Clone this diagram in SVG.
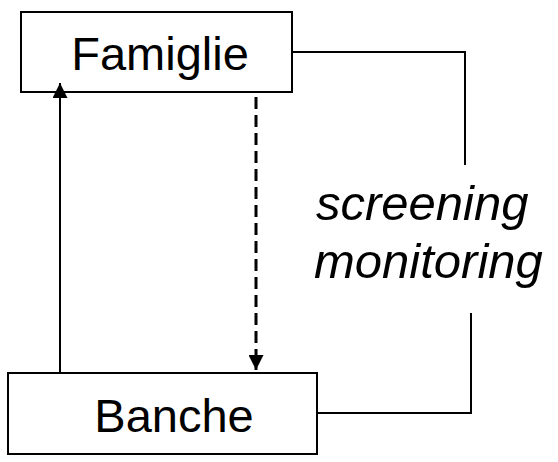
<svg xmlns="http://www.w3.org/2000/svg" width="558" height="462" viewBox="0 0 558 462">
<style>
.box{fill:#fff;stroke:#000;stroke-width:2}
.lbl{font-family:"Liberation Sans",Arial,sans-serif;font-size:47px;fill:#000}
.it{font-style:italic;font-size:49px}
.ln{fill:none;stroke:#000;stroke-width:2}
.dash{stroke-width:3;stroke-dasharray:12,6}
</style>
<defs>
<marker id="ah" viewBox="0 0 15 15" refX="15" refY="7.5" markerWidth="15" markerHeight="15" markerUnits="userSpaceOnUse" orient="auto">
<path d="M0,0 L15,7.5 L0,15 z" fill="#000"/>
</marker>
</defs>
<g id="famiglie">
<rect class="box" x="21" y="12" width="271" height="80"/>
<text class="lbl" x="160" y="70" text-anchor="middle">Famiglie</text>
</g>
<g id="banche">
<rect class="box" x="8" y="373" width="309" height="81"/>
<text class="lbl" x="174" y="432" text-anchor="middle">Banche</text>
</g>
<g id="label">
<text class="lbl it" x="316" y="220">screening</text>
<text class="lbl it" x="314" y="278">monitoring</text>
</g>
<g id="connectors">
<path class="ln" d="M292,52 H465 V165"/>
<path class="ln" d="M317,413 H471 V313"/>
<line class="ln" x1="60" y1="372" x2="60" y2="83" marker-end="url(#ah)"/>
<line class="ln dash" x1="256" y1="97" x2="256" y2="370" marker-end="url(#ah)"/>
</g>
</svg>
